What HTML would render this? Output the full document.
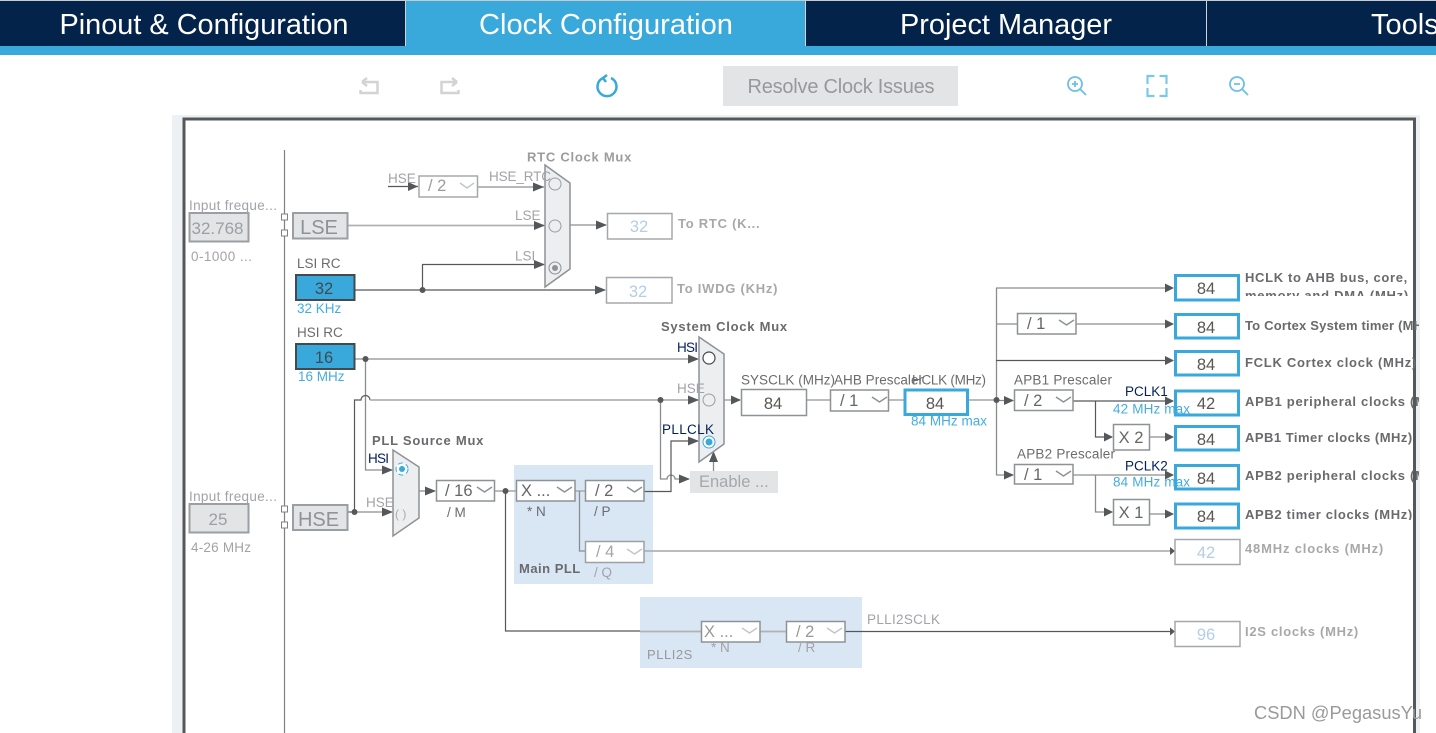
<!DOCTYPE html>
<html><head><meta charset="utf-8"><style>
html,body{margin:0;padding:0;background:#fff;width:1436px;height:733px;overflow:hidden}
svg{display:block;font-family:"Liberation Sans",sans-serif}
.l{fill:none;stroke:#8a8d90;stroke-width:1.3}
.d{fill:none;stroke:#55585b;stroke-width:1.2}
.g{fill:none;stroke:#b0b2b4;stroke-width:1.8}
.a{fill:#55585b}
.bx{fill:#fff;stroke:#8d9296;stroke-width:1.5}
.bb{fill:#fff;stroke:#39a9dc;stroke-width:3}
.dis{fill:#e2e4e6;stroke:#9a9fa3;stroke-width:2}
.rc{fill:#39a9dc;stroke:#44494d;stroke-width:2}
.mux{fill:#eceef0;stroke:#8d9296;stroke-width:1.5}
.v{font-size:16.5px;fill:#5a5650;text-anchor:middle}
.vf{font-size:16.5px;fill:#b5cde6;text-anchor:middle}
.t{font-size:13.5px;fill:#6b6b70}
.tl{font-size:13.5px;fill:#a5a1a8}
.b{font-size:13px;font-weight:bold;fill:#6a6a6e;letter-spacing:.75px}
.bl{font-size:13px;font-weight:bold;fill:#a8a8a8;letter-spacing:.75px}
.k{font-size:13.5px;fill:#04205a}
.c{font-size:13.5px;fill:#45ace0}
.h{font-size:29px;fill:#fff;text-anchor:middle}
.ch{fill:none;stroke:#8d9296;stroke-width:1.5}
.chl{fill:none;stroke:#c4c6c8;stroke-width:1.5}
</style></head><body>
<svg width="1436" height="733" viewBox="0 0 1436 733" xmlns="http://www.w3.org/2000/svg">
<!-- header -->
<rect x="0" y="0" width="1436" height="46" fill="#03234b"/>
<rect x="0" y="46" width="1436" height="9" fill="#39a9dc"/>
<rect x="406" y="1" width="399" height="46" fill="#39a9dc"/>
<rect x="0" y="0" width="1436" height="1" fill="#c8cacc"/>
<rect x="405" y="1" width="1" height="45" fill="#d0d4d8"/>
<rect x="805" y="1" width="1" height="45" fill="#d0d4d8"/>
<rect x="1206" y="1" width="1" height="45" fill="#d0d4d8"/>
<text class="h" x="204" y="34" textLength="289" lengthAdjust="spacingAndGlyphs">Pinout &amp; Configuration</text>
<text class="h" x="606" y="34" textLength="254" lengthAdjust="spacingAndGlyphs">Clock Configuration</text>
<text class="h" x="1006" y="34" textLength="212" lengthAdjust="spacingAndGlyphs">Project Manager</text>
<text class="h" x="1371" y="34" style="text-anchor:start">Tools</text>
<!-- toolbar -->
<path d="M362 82h15.500v11h-17v-3M362 82l5-4M362 82l5 4" fill="none" stroke="#d2d3d4" stroke-width="2.500"/>
<path d="M457 82h-15.500v11h17v-3M457 82l-5-4M457 82l-5 4" fill="none" stroke="#d2d3d4" stroke-width="2.500"/>
<path d="M603 78a9.500 9.500 0 1 0 8 0M603 78l4-3M603 78l3 4" fill="none" stroke="#39a9dc" stroke-width="2.500"/>
<rect x="723" y="66" width="235" height="40" fill="#e2e4e6"/>
<text x="841" y="93" text-anchor="middle" font-size="20" fill="#96999c" textLength="187">Resolve Clock Issues</text>
<circle cx="1075" cy="84" r="7" fill="none" stroke="#6cc0e8" stroke-width="1.800"/><path d="M1080 89l6 6M1072 84h6M1075 81v6" stroke="#6cc0e8" stroke-width="1.800" fill="none"/>
<path d="M1147.500 84v-8h7M1159.500 76h7v8M1166.500 88v8h-7M1154.500 96h-7v-8" fill="none" stroke="#7cc8ea" stroke-width="2.200"/>
<circle cx="1237" cy="84" r="7" fill="none" stroke="#6cc0e8" stroke-width="1.800"/><path d="M1242 89l6 6M1234 84h6" stroke="#6cc0e8" stroke-width="1.800" fill="none"/>
<!-- frame -->
<rect x="172" y="115" width="1248" height="618" fill="#eef1f4"/>
<rect x="184" y="119" width="1230.500" height="620" fill="#fff" stroke="#55585b" stroke-width="3"/>
<path d="M284.500 150V733" stroke="#7d8185" stroke-width="1.200"/>
<!-- PLL backgrounds -->
<rect x="514" y="465" width="139" height="119" fill="#d9e7f5"/>
<rect x="640" y="597" width="222" height="71" fill="#d9e7f5"/>
<!-- lines -->
<path class="d" d="M388 186.500h30"/>
<path class="l" d="M478 187h66"/>
<path class="g" d="M348 225.500h196"/>
<path class="l" d="M570 225h36"/>
<path class="d" d="M355 290h250M422.500 290v-25.500H544"/>
<path class="l" d="M355 359h343M365.500 359V470H392"/>
<path class="d" d="M348 512h6"/>
<path class="l" d="M354 512h38"/>
<path class="d" d="M354.500 512V400H361a4.500 4.500 0 0 1 9 0"/>
<path class="g" d="M370 400H698"/>
<path class="l" d="M419 491h16"/>
<path class="g" d="M494 491h22M575 491h10"/>
<path class="d" d="M505.500 491V631H640"/>
<path class="l" d="M579.500 491V551H585"/>
<path class="g" d="M644 551H1174"/>
<path class="g" d="M640 631.500h61M760 631.500h26"/>
<path class="d" d="M845 631.500H1174"/>
<path class="l" d="M660.500 400V479H667a4 4 0 0 1 8 0H689"/>
<path class="d" d="M644 491.500H671V441H698"/>
<path class="l" d="M713.500 471V453"/>
<path class="g" d="M724 400h16M806 400h24M889 400h15M969 400h27"/>
<path class="l" d="M996.500 288V475M996 288H1173M996 324h21M1076 324h97M996 400.500h17M996 475h17"/>
<path class="d" d="M996 360.500H1173"/>
<path class="d" d="M1073 401H1173M1095.500 401V437H1112"/>
<path class="l" d="M1150 437h23M1073 475H1173M1095.500 475V512H1112M1150 514h23"/>
<!-- arrowheads -->
<path class="a" d="M418 186.500l-10-4.500v9zM544 187l-11-4.500v9zM545 225.500l-11-4.500v9zM545 264.500l-11-4.500v9zM607 225l-11-4.500v9zM606 290l-11-4.500v9zM699 359l-11-4.500v9zM699 400l-11-4.500v9zM699 441l-11-4.500v9zM393 470l-11-4.500v9zM393 512l-11-4.500v9zM436 491l-11-4.500v9zM690 479l-11-4.500v9zM713.500 451l-4.500 11h9zM741 400l-10-4.500v9zM1014 400.500l-10-4.500v9zM1014 475l-10-4.500v9zM1174 288l-9-4.500v9zM1174 324l-9-4.500v9zM1174 360.500l-9-4.500v9zM1174 401l-9-4.500v9zM1174 437l-9-4.500v9zM1174 475l-9-4.500v9zM1174 514l-9-4.500v9zM1113 437l-9-4.500v9zM1113 512l-9-4.500v9zM1175 551l-5-4v8zM1175 631.500l-5-4v8z"/>
<circle class="a" cx="422.500" cy="290" r="3"/><circle class="a" cx="365.500" cy="359" r="3"/><circle class="a" cx="354.500" cy="512" r="3"/><circle class="a" cx="505.500" cy="491" r="3"/><circle class="a" cx="660.500" cy="400" r="3"/><circle class="a" cx="996.500" cy="400" r="3"/>
<!-- source blocks -->
<rect x="189.500" y="213" width="59" height="28.500" class="dis"/>
<rect x="189.500" y="504" width="59" height="28.500" class="dis"/>
<rect x="293" y="213" width="54.500" height="25.500" class="dis"/>
<rect x="293" y="505" width="54.500" height="25" class="dis"/>
<rect x="281.500" y="214" width="6" height="6" fill="#fff" stroke="#7d8185"/><rect x="281.500" y="230" width="6" height="6" fill="#fff" stroke="#7d8185"/>
<rect x="281.500" y="506" width="6" height="6" fill="#fff" stroke="#7d8185"/><rect x="281.500" y="522" width="6" height="6" fill="#fff" stroke="#7d8185"/>
<rect x="296" y="275" width="58.500" height="25" class="rc"/>
<rect x="296" y="344" width="58.500" height="25" class="rc"/>
<text x="217.500" y="234" text-anchor="middle" font-size="17" fill="#9c9fa2">32.768</text>
<text x="218" y="525" text-anchor="middle" font-size="17" fill="#9c9fa2">25</text>
<text x="319" y="234" text-anchor="middle" font-size="20" fill="#8f9396">LSE</text>
<text x="318.500" y="526" text-anchor="middle" font-size="20" fill="#8f9396">HSE</text>
<text x="324" y="294" text-anchor="middle" font-size="16.500" fill="#3f4a52">32</text>
<text x="324" y="363" text-anchor="middle" font-size="16.500" fill="#3f4a52">16</text>
<text class="tl" x="189" y="210" textLength="88">Input freque...</text>
<text class="tl" x="189" y="501" textLength="88">Input freque...</text>
<text class="tl" x="191" y="261" textLength="61">0-1000 ...</text>
<text class="tl" x="191" y="552" textLength="60">4-26 MHz</text>
<text class="t" x="297" y="268">LSI RC</text><text class="t" x="297" y="337">HSI RC</text>
<text class="c" x="297" y="313">32 KHz</text><text class="c" x="298" y="381">16 MHz</text>
<!-- RTC mux -->
<polygon class="mux" points="545,165 570,183 570,269 545,287"/>
<circle cx="555" cy="184" r="6" fill="none" stroke="#9a9fa3"/><circle cx="555" cy="226" r="6" fill="none" stroke="#9a9fa3"/><circle cx="555" cy="268" r="6" fill="none" stroke="#8d9296"/><circle cx="555" cy="268" r="3" fill="#8d9296"/>
<text class="bl" x="527" y="161.500" style="fill:#9c9c9c">RTC Clock Mux</text>
<text class="tl" x="388" y="183">HSE</text><text class="tl" x="489" y="181" textLength="62">HSE_RTC</text><text class="tl" x="515" y="220">LSE</text><text class="tl" x="515" y="260.500">LSI</text>
<rect x="419" y="176" width="58.500" height="21" class="bx" style="stroke:#a5a8ab"/>
<text x="428" y="191" font-size="16.500" fill="#9c9c9c">/ 2</text><path class="chl" d="M460 183l7 5 7-5"/>
<rect x="607.500" y="213.500" width="64.500" height="25.500" class="bx" style="stroke:#a5a8ab"/><text class="vf" x="639" y="232">32</text>
<rect x="606.500" y="277.500" width="65.500" height="25.500" class="bx" style="stroke:#a5a8ab"/><text class="vf" x="638" y="297">32</text>
<text class="bl" x="678" y="228">To RTC (K...</text><text class="bl" x="677" y="293">To IWDG (KHz)</text>
<!-- PLL mux -->
<polygon class="mux" points="393,450 419,467 419,518 393,536"/>
<circle cx="402" cy="469" r="6" fill="#fff" stroke="#39a9dc" stroke-dasharray="5 3"/><circle cx="402" cy="469" r="3" fill="#39a9dc"/>
<text x="395" y="518" font-size="12" fill="#aaa">( )</text>
<text class="b" x="372" y="445">PLL Source Mux</text>
<text class="k" x="368" y="463" textLength="21">HSI</text><text class="tl" x="366" y="507">HSE</text>
<!-- M N P Q -->
<rect x="436.500" y="480.500" width="58" height="20.500" class="bx"/><text x="445" y="496" font-size="16.500" fill="#666">/ 16</text><path class="ch" d="M477 487l7.500 5 7.500-5"/>
<rect x="516.500" y="480.500" width="58.500" height="20.500" class="bx"/><text x="521" y="496" font-size="16.500" fill="#666">X ...</text><path class="ch" d="M557 487l7.500 5 7.500-5"/>
<rect x="585.500" y="480.500" width="58.500" height="20.500" class="bx"/><text x="595" y="496" font-size="16.500" fill="#666">/ 2</text><path class="ch" d="M627 487l7.500 5 7.500-5"/>
<rect x="585.500" y="541.500" width="58.500" height="21" class="bx" style="stroke:#9da1a4"/><text x="596" y="557" font-size="16.500" fill="#a5a5a5">/ 4</text><path class="chl" d="M627 549l7.500 5 7.500-5"/>
<text class="t" x="447" y="517">/ M</text><text class="t" x="527" y="516">* N</text><text class="t" x="594" y="516">/ P</text><text class="tl" x="594" y="577">/ Q</text>
<text class="b" x="519" y="573" textLength="62">Main PLL</text>
<!-- sysclk mux -->
<polygon class="mux" points="699,337 724,354 724,444 699,462"/>
<circle cx="709" cy="358" r="6" fill="#fff" stroke="#44494d" stroke-width="1.200"/><circle cx="709" cy="400" r="6" fill="none" stroke="#9a9fa3"/><circle cx="709" cy="442" r="6" fill="#fff" stroke="#39a9dc"/><circle cx="709" cy="442" r="3.500" fill="#39a9dc"/>
<text class="b" x="661" y="331">System Clock Mux</text>
<text class="k" x="677" y="352" textLength="21">HSI</text><text class="tl" x="677" y="393">HSE</text><text class="k" x="662" y="434" textLength="52">PLLCLK</text>
<rect x="690" y="471" width="88" height="22" fill="#e2e4e6"/><text x="699" y="487" font-size="16.500" fill="#a5a8ab">Enable ...</text>
<!-- sysclk chain -->
<rect x="741.500" y="389.500" width="65" height="26" class="bx"/><text class="v" x="773" y="409">84</text>
<rect x="830.500" y="390" width="58" height="21" class="bx" stroke-width="2"/><text x="840" y="406" font-size="16.500" fill="#666">/ 1</text><path class="ch" d="M872 397l7.500 5 7.500-5"/>
<rect x="905" y="390" width="62.500" height="24.500" class="bb"/><text class="v" x="935" y="409">84</text>
<text class="t" x="741" y="384.500" textLength="94">SYSCLK (MHz)</text>
<text class="t" x="834" y="384.500" textLength="89">AHB Prescaler</text>
<text class="t" x="912" y="384.500" textLength="74">HCLK (MHz)</text>
<text class="c" x="911" y="425.500" textLength="76">84 MHz max</text>
<rect x="1014.500" y="390" width="58.500" height="20.500" class="bx" stroke-width="2"/><text x="1024" y="406" font-size="16.500" fill="#666">/ 2</text><path class="ch" d="M1056 397l7.500 5 7.500-5"/>
<rect x="1014.500" y="464.500" width="58.500" height="19.500" class="bx"/><text x="1024" y="480" font-size="16.500" fill="#666">/ 1</text><path class="ch" d="M1056 471l7.500 5 7.500-5"/>
<rect x="1017.500" y="313.500" width="58.500" height="20.500" class="bx"/><text x="1027" y="329" font-size="16.500" fill="#666">/ 1</text><path class="ch" d="M1059 320l7.500 5 7.500-5"/>
<text class="t" x="1014" y="384.500" textLength="98">APB1 Prescaler</text>
<text class="t" x="1017" y="458.500" textLength="98">APB2 Prescaler</text>
<text class="k" x="1125" y="396">PCLK1</text><text class="k" x="1125" y="470.500">PCLK2</text>
<rect x="1113.500" y="424.500" width="36" height="25.500" class="bx"/><text class="v" x="1131" y="443" style="fill:#666">X 2</text>
<rect x="1113.500" y="499.500" width="36" height="25.500" class="bx"/><text class="v" x="1131" y="518" style="fill:#666">X 1</text>
<!-- outputs -->
<g>
<rect x="1175.500" y="275.500" width="63" height="24.500" class="bb"/><text class="v" x="1206" y="294">84</text>
<rect x="1175.500" y="314.500" width="63" height="23.500" class="bb"/><text class="v" x="1206" y="333">84</text>
<rect x="1175.500" y="351.500" width="63" height="23.500" class="bb"/><text class="v" x="1206" y="370">84</text>
<rect x="1175.500" y="391" width="63" height="24" class="bb"/><text class="v" x="1206" y="409">42</text>
<rect x="1175.500" y="426.500" width="63" height="23.500" class="bb"/><text class="v" x="1206" y="445">84</text>
<rect x="1175.500" y="465.500" width="63" height="23.500" class="bb"/><text class="v" x="1206" y="484">84</text>
<rect x="1175.500" y="504" width="63" height="24" class="bb"/><text class="v" x="1206" y="522">84</text>
</g>
<text class="c" x="1113" y="413.500" textLength="77">42 MHz max</text>
<text class="c" x="1113" y="486.500" textLength="77">84 MHz max</text>
<rect x="1175" y="539.500" width="65" height="25" class="bx" style="stroke:#a5a8ab"/><text class="vf" x="1206" y="558">42</text>
<rect x="1175" y="621.500" width="65" height="25" class="bx" style="stroke:#a5a8ab"/><text class="vf" x="1206" y="640">96</text>
<svg x="1245" y="273" width="174" height="23" viewBox="0 0 174 23"><text class="b" x="0" y="9" textLength="163">HCLK to AHB bus, core,</text><text class="b" x="0" y="27" textLength="164">memory and DMA (MHz)</text></svg>
<svg x="1245" y="310" width="174" height="210" viewBox="0 0 174 210">
<text class="b" x="0" y="20" textLength="190">To Cortex System timer (MHz)</text>
<text class="b" x="0" y="57" textLength="172">FCLK Cortex clock (MHz)</text>
<text class="b" x="0" y="96" textLength="204">APB1 peripheral clocks (MHz)</text>
<text class="b" x="0" y="132" textLength="168">APB1 Timer clocks (MHz)</text>
<text class="b" x="0" y="170" textLength="204">APB2 peripheral clocks (MHz)</text>
<text class="b" x="0" y="209" textLength="168">APB2 timer clocks (MHz)</text>
</svg>
<text class="bl" x="1245" y="553" textLength="139">48MHz clocks (MHz)</text>
<text class="bl" x="1245" y="636" textLength="114">I2S clocks (MHz)</text>
<!-- PLLI2S -->
<rect x="701.500" y="621.500" width="58.500" height="20.500" class="bx"/><text x="704" y="637" font-size="16.500" fill="#999">X ...</text><path class="chl" d="M742 628l7.500 5 7.500-5"/>
<rect x="786.500" y="621.500" width="58.500" height="20.500" class="bx"/><text x="796" y="637" font-size="16.500" fill="#999">/ 2</text><path class="chl" d="M827 628l7.500 5 7.500-5"/>
<text class="tl" x="711" y="652">* N</text><text class="tl" x="798" y="652">/ R</text>
<text class="b" x="647" y="659" textLength="46" style="fill:#999;font-weight:normal">PLLI2S</text>
<text class="tl" x="867" y="624" textLength="73">PLLI2SCLK</text>
<text x="1254" y="719" font-size="18" fill="#9a9a9a" textLength="168" lengthAdjust="spacingAndGlyphs">CSDN @PegasusYu</text>
</svg>
</body></html>
